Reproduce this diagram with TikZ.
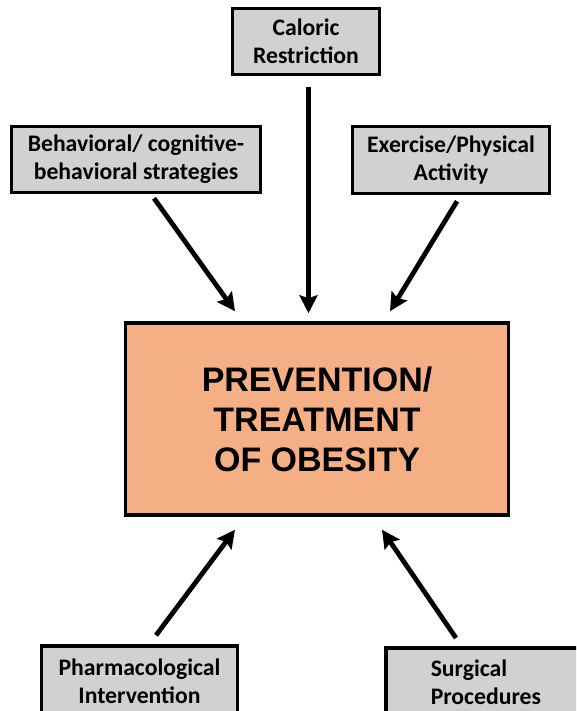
\documentclass[tikz,border=0pt]{standalone}
\usepackage{fontspec}
\usetikzlibrary{arrows.meta}
\newfontfamily\boxfont{Carlito}
\newfontfamily\hubfont{Liberation Sans}
\definecolor{boxgray}{RGB}{208,210,209}
\definecolor{hubpeach}{RGB}{244,176,132}

\begin{document}
\begin{tikzpicture}[x=1pt,y=-1pt,
  sidebox/.style={draw,line width=3.5pt,fill=boxgray,align=center,inner sep=0pt,
    font=\boxfont\bfseries\fontsize{23.7}{28}\selectfont},
  hub/.style={draw,line width=3.5pt,fill=hubpeach,align=center,inner sep=0pt,
    font=\hubfont\bfseries\fontsize{34}{40}\selectfont},
  push/.style={-{Stealth[length=18pt,width=18pt,inset=3pt]},line width=4.8pt}]
\clip (0,0) rectangle (576,711);

\node[hub,minimum width=383pt,minimum height=192pt] (hub) at (317,419) {PREVENTION/\\TREATMENT\\OF OBESITY};

\node[sidebox,minimum width=147pt,minimum height=66pt] (cal) at (306,41.5) {Caloric\\Restriction};
\node[sidebox,minimum width=249pt,minimum height=66pt] (beh) at (136,159.5) {Behavioral/ cognitive-\\behavioral strategies};
\node[sidebox,minimum width=197pt,minimum height=67pt] (exer) at (451,160) {Exercise/Physical\\Activity};
\node[sidebox,minimum width=196pt,minimum height=70pt] (phar) at (139.5,681) {Pharmacological\\Intervention};
\node[sidebox,align=left,inner xsep=45pt,minimum height=70pt,anchor=north west] (surg) at (384,646) {Surgical\\Procedures};

% arrows into the hub
\draw[push] ([xshift=18pt,yshift=-4pt]beh.south) -- ([xshift=-82pt,yshift=10pt]hub.north);
\draw[push] ([xshift=2.5pt,yshift=-11pt]cal.south) -- ([xshift=-8.5pt,yshift=8pt]hub.north);
\draw[push] ([xshift=6pt,yshift=-6pt]exer.south) -- ([xshift=73pt,yshift=10pt]hub.north);
\draw[push] ([xshift=16.5pt,yshift=9pt]phar.north) -- ([xshift=-82pt,yshift=-13pt]hub.south);
\draw[push] ([xshift=72pt,yshift=8pt]surg.north west) -- ([xshift=65pt,yshift=-13pt]hub.south);
\end{tikzpicture}
\end{document}
